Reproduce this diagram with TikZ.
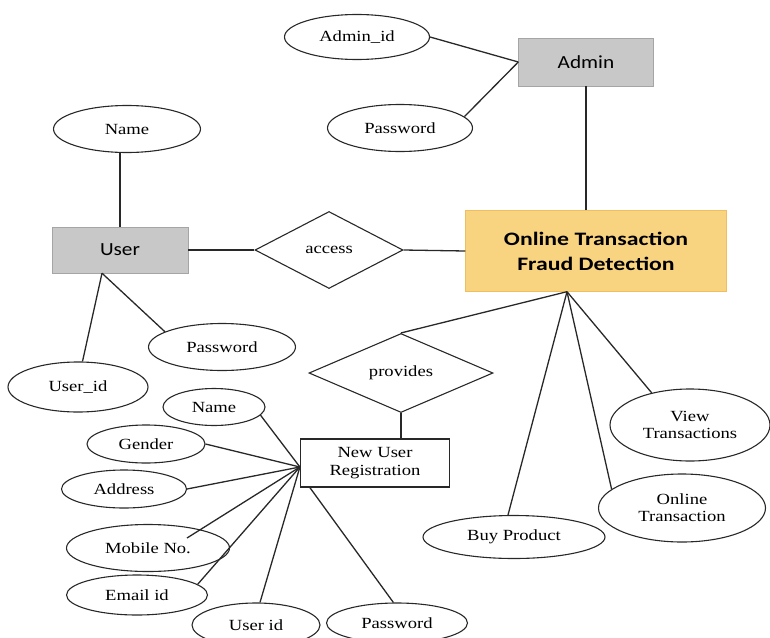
\documentclass[tikz,border=0pt]{standalone}
\usepackage{fontspec}
\setmainfont{Liberation Serif}[FakeStretch=1.2]
\newfontfamily\boxfont{Carlito}[FakeStretch=1.15]
\newfontfamily\titlefont{Carlito}[FakeStretch=1.25]
\usetikzlibrary{shapes.geometric}
\definecolor{otfdfill}{RGB}{249,212,128}
\definecolor{otfdline}{RGB}{240,190,95}
\definecolor{entfill}{RGB}{200,200,200}
\definecolor{entline}{RGB}{165,165,165}
\definecolor{linecol}{RGB}{40,40,40}

\begin{document}
\begin{tikzpicture}[x=1pt,y=-1pt,
  attr/.style={draw=linecol,line width=1.1pt,ellipse,inner sep=0pt,align=center,font=\fontsize{15.5}{17}\selectfont},
  rel/.style={draw=linecol,line width=1.1pt,diamond,inner sep=0pt,font=\fontsize{15.5}{17}\selectfont},
  ent/.style={draw=entline,fill=entfill,inner sep=0pt,font=\boxfont\fontsize{18.5}{20}\selectfont},
  conn/.style={draw=linecol,line width=1.3pt}]
\useasboundingbox (0,0) rectangle (770,637);

% admin side
\node[ent,minimum width=135,minimum height=48] (admin) at (586,62) {Admin};
\node[attr,minimum width=145,minimum height=45] (adminid) at (357,37) {Admin\_id};
\node[attr,minimum width=145,minimum height=47] (adminpw) at (400,128) {Password};
\draw[conn] (adminid.east)--(admin.west);
\draw[conn] (adminpw.10)--(admin.west);

% user side
\node[ent,minimum width=136,minimum height=46] (user) at (120,250) {User};
\node[attr,minimum width=147,minimum height=47] (username) at (127,129) {Name};
\node[attr,minimum width=147,minimum height=47] (userpw) at (222,347) {Password};
\node[attr,minimum width=140,minimum height=50] (userid) at (78,387) {User\_id};
\draw[conn] (user.north)--(user.north |- username.south);
\draw[conn] ([xshift=-18pt]user.south)--(userid.80);
\draw[conn] ([xshift=-18pt]user.south)--(userpw.165);

% main entity
\node[draw=otfdline,fill=otfdfill,minimum width=261,minimum height=81,align=center,
  font=\titlefont\bfseries\fontsize{19}{25}\selectfont] (otfd) at (596,251)
  {Online Transaction\\Fraud Detection};
\node[rel,minimum width=148,minimum height=77] (access) at (329,250) {access};
\draw[conn] (user.east)--(access.west);
\draw[conn] (access.east)--(otfd.west);
\draw[conn] (admin.south)--(admin.south |- otfd.north);

% services
\node[attr,minimum width=160,minimum height=72] (viewtr) at (690,425) {View\\Transactions};
\node[attr,minimum width=167,minimum height=68] (onlinetr) at (682,508) {Online\\Transaction};
\node[attr,minimum width=182,minimum height=43] (buyprod) at (514,537) {Buy Product};
\draw[conn] ([xshift=-29pt]otfd.south)--(viewtr.140);
\draw[conn] ([xshift=-29pt]otfd.south)--(onlinetr.165);
\draw[conn] ([xshift=-29pt]otfd.south)--([xshift=-6pt]buyprod.north);

% registration
\node[rel,minimum width=184,minimum height=79] (provides) at (401,373) {provides};
\node[draw=linecol,line width=1.2pt,minimum width=149,minimum height=48,align=center,
  font=\fontsize{15.5}{18}\selectfont] (newuser) at (375,463) {New User\\Registration};
\draw[conn] ([xshift=-29pt]otfd.south)--(provides.north);
\draw[conn] (provides.south)--(provides.south |- newuser.north);

\node[attr,minimum width=102,minimum height=37] (regname) at (214,407) {Name};
\node[attr,minimum width=118,minimum height=38] (gender) at (146,444) {Gender};
\node[attr,minimum width=125,minimum height=38] (address) at (124,489) {Address};
\node[attr,minimum width=163,minimum height=47] (mobile) at (148,548) {Mobile No.};
\node[attr,minimum width=141,minimum height=40] (email) at (137,595) {Email id};
\node[attr,minimum width=128,minimum height=44] (reguserid) at (256,625) {User id};
\node[attr,minimum width=141,minimum height=40] (regpw) at (397,623) {Password};
\draw[conn] ([yshift=-4pt]newuser.west)--(regname.-10);
\draw[conn] ([yshift=-4pt]newuser.west)--(gender.east);
\draw[conn] ([yshift=-4pt]newuser.west)--(address.east);
\draw[conn] ([yshift=-4pt]newuser.west)--([xshift=39pt,yshift=10pt]mobile.center);
\draw[conn] ([yshift=-4pt]newuser.west)--(email.10);
\draw[conn] ([yshift=-4pt]newuser.west)--(reguserid.80);
\draw[conn] ([xshift=10pt]newuser.south west)--(regpw.100);
\end{tikzpicture}
\end{document}
